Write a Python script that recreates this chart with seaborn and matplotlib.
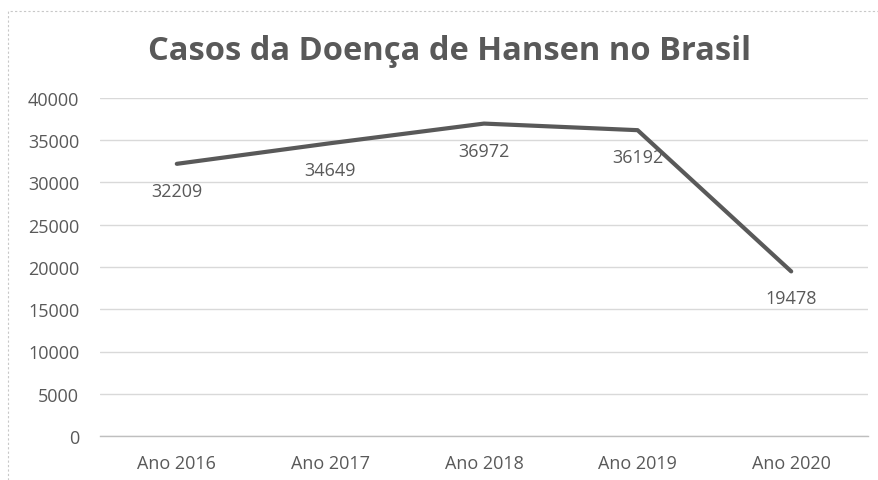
import numpy as np
import pandas as pd
import matplotlib.pyplot as plt
import matplotlib.patches as mpatches
import seaborn as sns

# data
anos = ['Ano 2016', 'Ano 2017', 'Ano 2018', 'Ano 2019', 'Ano 2020']
casos = [32209, 34649, 36972, 36192, 19478]
y_ticks = [0, 5000, 10000, 15000, 20000, 25000, 30000, 35000, 40000]

df = pd.DataFrame({'ano': anos, 'casos': casos})

sns.set_style('white')
plt.rcParams['font.family'] = ['Open Sans', 'DejaVu Sans']

grey = '#595959'

fig = plt.figure(figsize=(8.79, 4.81), dpi=100)
ax = fig.add_axes([100 / 879, 1 - 437 / 481, 768 / 879, 338 / 481])

sns.lineplot(data=df, x='ano', y='casos', color=grey, linewidth=3,
	sort=False, ax=ax)

for i, v in enumerate(casos):
	ax.annotate(str(v), (i, v), xytext=(0, -13), textcoords='offset points',
		ha='center', va='top', fontsize=13, color=grey)

ax.set_xlim(-0.5, len(anos) - 0.5)
ax.set_ylim(0, 40000)
ax.set_yticks(y_ticks)
ax.set_yticklabels([str(t) for t in y_ticks])
ax.set_xticks(range(len(anos)))
ax.set_xticklabels(anos)
ax.set_xlabel('')
ax.set_ylabel('')

ax.grid(axis='y', color='#d9d9d9', linewidth=1)
ax.set_axisbelow(True)
for s in ['top', 'right', 'left']:
	ax.spines[s].set_visible(False)
ax.spines['bottom'].set_color('#bfbfbf')
ax.spines['bottom'].set_linewidth(1)

ax.tick_params(axis='y', length=0, labelsize=13, labelcolor=grey, pad=15)
ax.tick_params(axis='x', length=0, labelsize=13, labelcolor=grey, pad=13)

# minor ticks at category boundaries
ax.set_xticks(np.arange(-0.5, len(anos), 1), minor=True)
ax.tick_params(axis='x', which='minor', length=5, color='#bfbfbf', width=1)

fig.text(450 / 879, 1 - 51 / 481, 'Casos da Doença de Hansen no Brasil',
	ha='center', va='center', fontsize=23.5, fontweight='bold', color=grey)

border = mpatches.Rectangle((8 / 879, -0.1), 1.1, 1 - 12 / 481 + 0.1,
	transform=fig.transFigure, fill=False, edgecolor='#c8c8c8',
	linestyle=(0, (2, 2)), linewidth=0.8)
fig.patches.append(border)

plt.savefig('out.png', dpi=100)
plt.close()
